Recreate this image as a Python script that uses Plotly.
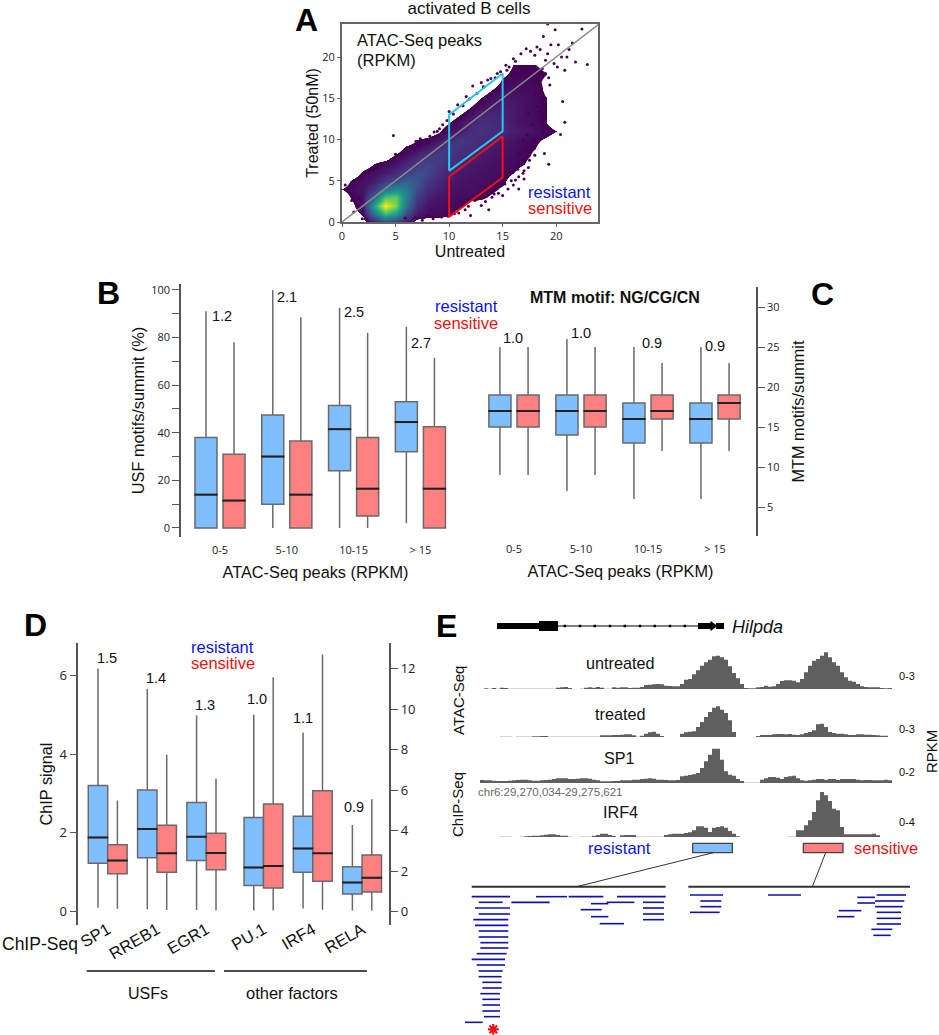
import plotly.graph_objects as go

W, H = 939, 1035

# ---------- panel A data ----------
density_rows = [
 [0,0,0,8,20,16,7,0],
 [0,0,4,36,68,54,22,8,5,5,4,0],
 [0,2,8,58,100,80,38,12,7,6,5,4,0],
 [0,4,6,30,72,76,42,18,9,7,6,5,5,4,2,0],
 [3,5,7,14,34,46,42,24,12,9,7,6,6,5,4,2,0],
 [0,4,6,8,15,24,30,27,17,11,8,7,6,6,5,4,0],
 [0,0,4,6,8,12,18,24,21,14,10,8,7,6,6,5,3,0],
 [0,0,0,3,5,7,11,17,21,17,13,10,8,7,6,6,5,3,0],
 [0,0,0,0,0,4,6,10,15,18,15,12,10,8,7,6,5,4,2,0],
 [0,0,0,0,0,0,4,5,8,13,18,14,13,10,8,7,6,4,3,0],
 [0,0,0,0,0,0,0,3,4,6,12,16,14,12,10,8,7,5,4,2,0],
 [0,0,0,0,0,0,0,0,0,2,6,8,12,15,13,11,9,8,6,5,3,0],
 [0,0,0,0,0,0,0,0,0,0,3,6,10,13,12,10,8,6,5,3,0],
 [0,0,0,0,0,0,0,0,0,0,0,3,6,10,11,10,8,6,5,3,0],
 [0,0,0,0,0,0,0,0,0,0,0,0,3,6,9,9,8,6,5,3,0],
 [0,0,0,0,0,0,0,0,0,0,0,0,0,3,6,8,7,6,5,3,0],
 [0,0,0,0,0,0,0,0,0,0,0,0,0,0,3,6,6,5,5,2,0],
 [0,0,0,0,0,0,0,0,0,0,0,0,0,0,0,4,5,5,4,2,0],
 [0,0,0,0,0,0,0,0,0,0,0,0,0,0,0,2,4,4,4,3,0],
 [0,0,0,0,0,0,0,0,0,0,0,0,0,0,0,0,3,3,3,2,0],
 [0],[0],[0],[0],[0],
]
density_axis = list(range(25))
outlier_x = [22.4,22.9,19.9,19.2,21.5,21.2,21.8,20.8,20.6,20.8,20.4,18.8,18.5,19.2,19.8,20.1,16.7,19.5,18.2,17.6,18.0,19.0,20.5,21.0,20.2,17.2,16.2,15.6,19.3,19.0,18.6,19.0,18.2,18.6,18.8,17.9,17.7,18.9,19.3,17.5,16.8,16.5,15.8,17.0,
 4.8,6.9,7.3,8.2,8.9,9.4,10.0,10.8,11.6,12.2,13.0,13.6,14.3,8.0,6.0,5.0,4.0,3.2,2.5,1.8,1.2,0.3,0.5,0.8,
 10.5,11.5,12.0,13.0,13.7,14.0,14.6,15.5,16.0,16.5,8.5,9.3,7.5,11.2,12.8,15.0,
 17.9,18.3,18.7,18.1,17.4,17.8,16.9,17.3,18.4,18.9,19.4,17.0,16.4,15.9,16.6,17.6,18.0,15.4,16.0,14.8,15.3,13.9,14.5,13.2,12.6,11.9,11.3,10.4,9.8,9.1,8.6,7.8,7.2,6.4,5.6,4.6,3.6,2.9,2.2,1.5,
 9.9,10.9,11.8,12.4,13.4,14.2,15.2,16.2,16.9,17.4,8.0,6.8,5.9,1.9,2.3,1.1,0.9,1.6]
outlier_y = [23.4,19.1,23.3,24.0,21.7,20.9,19.4,18.4,14.6,12.1,10.6,22.5,20.9,20.4,19.2,18.8,20.4,21.5,21.2,20.7,20.2,19.6,20.0,20.0,21.5,21.0,19.5,18.8,17.5,18.0,16.0,15.0,14.0,12.5,11.0,10.0,8.8,8.3,7.0,7.5,7.0,5.5,5.0,5.2,
 10.5,9.8,10.1,10.4,11.0,11.8,13.4,14.2,15.2,16.5,16.9,17.2,17.5,9.6,8.8,8.2,7.0,6.5,6.0,5.5,5.0,4.5,4.0,3.5,
 1.0,1.5,0.8,2.0,1.5,3.0,3.5,4.0,4.5,4.0,0.4,0.6,0.2,2.2,3.2,3.2,
 17.8,17.2,18.6,15.5,13.2,11.8,9.9,10.6,13.4,14.3,16.6,6.2,6.4,6.0,8.2,9.0,8.1,18.4,19.8,18.2,19.0,17.4,18.0,16.4,15.6,14.9,14.1,13.1,12.3,11.3,10.9,10.0,9.3,8.8,8.5,7.6,6.9,6.3,5.8,5.2,
 0.7,1.1,1.9,2.6,2.5,3.4,4.6,5.1,5.9,6.6,0.8,0.6,0.5,0.4,0.3,1.2,2.6,2.9]
diag_xy = [0, 24]
res_gate_x = [10, 10, 15, 15, 10]
res_gate_y = [6.2, 13, 18, 11, 6.2]
sen_gate_x = [10, 10, 15, 15, 10]
sen_gate_y = [0.6, 5.5, 10.4, 5.4, 0.6]

# ---------- panel B data ----------
bc_groups = ["0-5", "5-10", "10-15", "> 15"]
usf_res_q1 = [0, 10, 24, 32]
usf_res_med = [14, 30, 41.5, 44.5]
usf_res_q3 = [38, 47.5, 51.5, 53]
usf_res_lo = [0, 0, 0, 2]
usf_res_hi = [91, 100, 92.5, 84.5]
usf_sen_q1 = [0, 0, 5, 0]
usf_sen_med = [11.5, 14, 16.5, 16.5]
usf_sen_q3 = [31, 36.5, 38, 42.5]
usf_sen_lo = [0, 0, 0, 0]
usf_sen_hi = [78, 88.5, 82, 71.5]
usf_ratio = ["1.2", "2.1", "2.5", "2.7"]

# ---------- panel C data ----------
mtm_res_q1 = [15, 14, 13, 13]
mtm_res_med = [17, 17, 16, 16]
mtm_res_q3 = [19, 19, 18, 18]
mtm_res_lo = [9, 7, 6, 6]
mtm_res_hi = [25, 26, 25, 25]
mtm_sen_q1 = [15, 15, 16, 16]
mtm_sen_med = [17, 17, 17, 18]
mtm_sen_q3 = [19, 19, 19, 19]
mtm_sen_lo = [9, 9, 12, 12]
mtm_sen_hi = [25, 25, 23, 23]
mtm_ratio = ["1.0", "1.0", "0.9", "0.9"]

# ---------- panel D data ----------
factors = ["SP1", "RREB1", "EGR1", "PU.1", "IRF4", "RELA"]
chip_res_q1 = [1.23, 1.37, 1.30, 0.66, 1.00, 0.45]
chip_res_med = [1.88, 2.10, 1.90, 1.12, 1.60, 0.74]
chip_res_q3 = [3.20, 3.09, 2.77, 2.39, 2.42, 1.14]
chip_res_lo = [0.10, 0.06, 0.04, 0.03, 0.08, 0.03]
chip_res_hi = [6.17, 5.66, 4.98, 5.00, 4.55, 2.20]
chip_sen_q1 = [0.96, 1.00, 1.06, 0.60, 0.77, 0.50]
chip_sen_med = [1.30, 1.48, 1.49, 1.16, 1.48, 0.86]
chip_sen_q3 = [1.70, 2.19, 1.99, 2.73, 3.07, 1.44]
chip_sen_lo = [0.07, 0.04, 0.03, 0.03, 0.05, 0.03]
chip_sen_hi = [2.82, 3.98, 3.38, 5.95, 6.53, 2.85]
chip_ratio = ["1.5", "1.4", "1.3", "1.0", "1.1", "0.9"]

# ---------- panel E data ----------
track_untreated = [0,2,1,3,1,4,3,1,1,1, 1,1,1,1,1,1,1,1,1,4, 5,6,3,0,0,1,4,5,4,6, 4,1,1,5,4,5,5,3,4,4,
 6,12,13,14,15,14,10,9,8,8, 15,28,30,44,56,70,80,88,98,100, 95,88,68,48,32,15,3,2,2,5,
 6,10,7,8,15,24,26,26,25,20, 30,50,70,85,90,100,110,95,80,70, 50,35,25,22,15,8,6,5,5,5, 3,2,3,1]
track_treated = [0,0,0,0,0,1,1,1,0,1, 1,1,1,2,2,3,3,1,1,1, 1,1,1,1,1,1,1,1,1,1, 5,5,5,6,6,7,8,8,5,1,
 4,10,14,16,10,3,0,0,0,0, 10,14,16,17,30,45,60,75,88,92, 82,72,50,15,0,0,0,0,0,3,
 6,6,6,8,9,9,8,9,7,6, 8,12,15,20,38,40,30,15,12,10, 10,8,6,6,8,8,7,7,6,5, 4,4,0,0]
track_sp1 = [9,8,8,7,6,6,6,7,8,9, 10,10,8,7,7,8,9,10,12,14, 14,14,12,12,13,14,14,13,10,8, 5,5,5,6,6,8,8,8,10,10,
 12,13,14,13,10,10,9,8,8,9, 20,22,24,26,30,45,65,85,103,103, 70,35,25,22,12,6,1,1,1,1,
 10,14,18,18,16,12,18,20,22,14, 8,7,8,10,12,12,10,12,12,9, 12,12,12,12,10,8,9,9,8,8, 8,10,8,6]
track_irf4 = [0,0,0,0,0,1,1,1,0,0, 1,2,3,4,4,5,7,8,8,6, 4,4,1,0,0,1,1,1,4,6, 10,10,6,3,0,5,6,6,6,1,
 1,1,1,1,1,1,6,8,10,10, 10,12,14,20,32,32,28,15,28,30, 32,28,18,10,2,0,0,0,0,0,
 0,0,0,0,0,0,0,1,1,20, 20,35,50,75,110,135,125,108,85,80, 30,8,8,8,8,8,8,8,10,5, 0,0,0,0]
gene_utr_x = [4.25, 14.75]
gene_cds_x = [14.75, 19.5]
gene_intron_x = [19.5, 54.5]
gene_exon2_x = [54.5, 58]
gene_end_x = [59, 61]
gene_nicks = [21.2, 25, 28.7, 32.5, 36.2, 40, 43.7, 47.5, 51.2]

read_starts = [95,116,105,116,100,105,116,116,121,121,110,95,110,116,116,127,127,121,127,127,127,132,75,
 288,214,386,453,500,531,422,453,479,609,609,609,609,
 750,781,781,750,984,1252,1252,1310,1305,1305,1310,1310,1310,1294,1300,1196,1191]
read_ends = [210,188,210,210,205,205,205,205,205,205,200,195,195,188,185,185,185,180,180,180,180,180,128,
 381,329,490,505,583,677,485,505,552,672,672,672,672,
 849,844,844,839,1083,1305,1305,1398,1393,1388,1383,1383,1383,1357,1352,1264,1243]
read_rows = [200,217,234,252,269,286,303,321,338,354,371,388,405,423,440,457,474,491,508,525,543,560,577,
 200,217,200,221,217,200,239,260,281,217,234,252,269,
 195,213,230,247,195,202,219,195,213,230,247,265,282,298,316,242,260]

FONT = "Liberation Sans"
TICKF = "Open Sans"
BLUE, RED = "#7fbfff", "#ff8080"
LBLUE, LRED = "#0a14ee", "#ee1111"
AXC = "#555555"


def px(v):
    return v / W


def py(v):
    return 1 - v / H


fig = go.Figure()
ann = []


def text(x, y, s, size=15, color="#111", bold=False, italic=False, angle=0, anchor="center", family=FONT):
    if bold:
        s = f"<b>{s}</b>"
    if italic:
        s = f"<i>{s}</i>"
    ann.append(dict(x=px(x), y=py(y), xref="paper", yref="paper", text=s, showarrow=False, xanchor=anchor,
                    yanchor="middle", textangle=angle, font=dict(size=size, color=color, family=family)))


def boxes(xs, width, q1, med, q3, lo, hi, fill, xa, ya):
    fig.add_trace(go.Box(x=xs, q1=q1, median=med, q3=q3, lowerfence=lo, upperfence=hi, width=width, whiskerwidth=0,
                         boxpoints=False, fillcolor=fill, line=dict(color="#6a6a6a", width=1.5),
                         xaxis=xa, yaxis=ya, showlegend=False, hoverinfo="skip"))
    mx, my = [], []
    for x, m in zip(xs, med):
        mx += [x - width * 0.53, x + width * 0.53, None]
        my += [m, m, None]
    fig.add_trace(go.Scatter(x=mx, y=my, mode="lines", line=dict(color="#222", width=2), xaxis=xa, yaxis=ya,
                             showlegend=False, hoverinfo="skip"))


# ----- A -----
matrix = [r + [0] * (25 - len(r)) for r in density_rows]
vir = [(0.11, "#482878"), (0.22, "#3e4989"), (0.33, "#31688e"), (0.44, "#26828e"), (0.56, "#1f9e89"),
       (0.67, "#35b779"), (0.78, "#6ece58"), (0.89, "#b5de2b"), (1.0, "#fde725")]
cs = [[0, "#ffffff"], [0.028, "#ffffff"], [0.03, "#440154"]] + [[max(p, 0.03), c] for p, c in vir]
fig.add_trace(go.Heatmap(x=density_axis, y=density_axis, z=matrix, zmin=0, zmax=100, zsmooth="best", colorscale=cs,
                         showscale=False, hoverinfo="skip", xaxis="x", yaxis="y"))
fig.add_trace(go.Scatter(x=outlier_x, y=outlier_y, mode="markers", marker=dict(size=3, color="#440154"),
                         showlegend=False, hoverinfo="skip", xaxis="x", yaxis="y"))
fig.add_trace(go.Scatter(x=diag_xy, y=diag_xy, mode="lines", line=dict(color="#8a8a8a", width=1.5), showlegend=False,
                         hoverinfo="skip", xaxis="x", yaxis="y"))
fig.add_trace(go.Scatter(x=res_gate_x, y=res_gate_y, mode="lines", line=dict(color="#29c5ea", width=2),
                         showlegend=False, hoverinfo="skip", xaxis="x", yaxis="y"))
fig.add_trace(go.Scatter(x=sen_gate_x, y=sen_gate_y, mode="lines", line=dict(color="#f01010", width=2),
                         showlegend=False, hoverinfo="skip", xaxis="x", yaxis="y"))

# ----- B / C -----
bc_pos = [0, 1, 2, 3]
off = 0.21
wid = 0.33
boxes([p - off for p in bc_pos], wid, usf_res_q1, usf_res_med, usf_res_q3, usf_res_lo, usf_res_hi, BLUE, "x2", "y2")
boxes([p + off for p in bc_pos], wid, usf_sen_q1, usf_sen_med, usf_sen_q3, usf_sen_lo, usf_sen_hi, RED, "x2", "y2")
boxes([p - off for p in bc_pos], wid, mtm_res_q1, mtm_res_med, mtm_res_q3, mtm_res_lo, mtm_res_hi, BLUE, "x3", "y3")
boxes([p + off for p in bc_pos], wid, mtm_sen_q1, mtm_sen_med, mtm_sen_q3, mtm_sen_lo, mtm_sen_hi, RED, "x3", "y3")

# ----- D -----
d_pos = [0, 1, 2, 3.16, 4.16, 5.16]
d_off = 0.197
d_w = 0.394
boxes([p - d_off for p in d_pos], d_w, chip_res_q1, chip_res_med, chip_res_q3, chip_res_lo, chip_res_hi, BLUE, "x4", "y4")
boxes([p + d_off for p in d_pos], d_w, chip_sen_q1, chip_sen_med, chip_sen_q3, chip_sen_lo, chip_sen_hi, RED, "x4", "y4")
fig.add_trace(go.Scatter(x=[0], y=[0], mode="markers", marker=dict(opacity=0), xaxis="x4", yaxis="y5",
                         showlegend=False, hoverinfo="skip"))

# ----- E tracks -----
for tr, ya in zip([track_untreated, track_treated, track_sp1, track_irf4], ["y6", "y7", "y8", "y9"]):
    fig.add_trace(go.Scatter(x=list(range(len(tr))), y=tr, mode="lines", fill="tozeroy", fillcolor="#5f5f5f",
                             line=dict(shape="hv", width=0, color="#5f5f5f"), xaxis="x5", yaxis=ya,
                             showlegend=False, hoverinfo="skip"))
for xs, w in [(gene_intron_x, 1), (gene_utr_x, 6), (gene_cds_x, 10), (gene_exon2_x, 6), (gene_end_x, 6)]:
    fig.add_trace(go.Scatter(x=xs, y=[0, 0], mode="lines", line=dict(color="#000", width=w), xaxis="x5", yaxis="y10",
                             showlegend=False, hoverinfo="skip"))
fig.add_trace(go.Scatter(x=gene_nicks, y=[0] * len(gene_nicks), mode="markers",
                         marker=dict(size=2.5, color="#000", symbol="square"), xaxis="x5", yaxis="y10",
                         showlegend=False, hoverinfo="skip"))
fig.add_trace(go.Scatter(x=[58.2], y=[0], mode="markers", marker=dict(size=9, color="#000", symbol="triangle-right"),
                         xaxis="x5", yaxis="y10", showlegend=False, hoverinfo="skip"))

# ----- E lower part -----
for xs, ys, fill in [([758, 877, 877, 758, 758], [40, 40, 68, 68, 40], BLUE),
                     ([1090, 1209, 1209, 1090, 1090], [40, 40, 68, 68, 40], RED)]:
    fig.add_trace(go.Scatter(x=xs, y=ys, mode="lines", fill="toself", fillcolor=fill,
                             line=dict(color="#444", width=1.3), xaxis="x6", yaxis="y11",
                             showlegend=False, hoverinfo="skip"))
for xs, ys, w in [([95, 677], [170, 170], 2), ([745, 1410], [170, 170], 2),
                  ([820, 410], [68, 170], 1), ([1157, 1117], [68, 170], 1)]:
    fig.add_trace(go.Scatter(x=xs, y=ys, mode="lines", line=dict(color="#333", width=w), xaxis="x6", yaxis="y11",
                             showlegend=False, hoverinfo="skip"))
rx, ry = [], []
for a, b, r in zip(read_starts, read_ends, read_rows):
    rx += [a, b, None]
    ry += [r, r, None]
fig.add_trace(go.Scatter(x=rx, y=ry, mode="lines", line=dict(color="#1010b0", width=1.6), xaxis="x6", yaxis="y11",
                         showlegend=False, hoverinfo="skip"))
fig.add_trace(go.Scatter(x=[160], y=[598], mode="markers",
                         marker=dict(symbol="asterisk", size=9, line=dict(color="#ee1111", width=2.2)),
                         xaxis="x6", yaxis="y11", showlegend=False, hoverinfo="skip"))

# ----- labels -----
text(306, 20, "A", 32, "#000", True)
text(108, 293, "B", 32, "#000", True)
text(822, 294, "C", 32, "#000", True)
text(35, 625, "D", 32, "#000", True)
text(446, 626, "E", 32, "#000", True)
text(355, 40, "ATAC-Seq peaks", 16.5, anchor="left")
text(355, 60, "(RPKM)", 16.5, anchor="left")
text(559, 192, "resistant", 16.5, LBLUE)
text(560, 208, "sensitive", 16.5, LRED)
text(466, 306, "resistant", 16.5, LBLUE)
text(466, 323, "sensitive", 16.5, LRED)
text(615, 297, "MTM motif: NG/CG/CN", 16, bold=True)
for s, x, y in zip(usf_ratio, [222, 287, 354, 421], [316, 297, 312, 343]):
    text(x, y, s, 14.5)
for s, x, y in zip(mtm_ratio, [513, 581, 652, 715], [338, 333, 343, 346]):
    text(x, y, s, 14.5)
for s, x, y in zip(chip_ratio, [107, 156, 205, 257, 303, 354], [658, 678, 705, 699, 718, 807]):
    text(x, y, s, 14.5)
text(222, 647, "resistant", 16.5, LBLUE)
text(223, 663, "sensitive", 16.5, LRED)
text(40, 944, "ChIP-Seq", 17.5)
text(148, 993, "USFs", 16)
text(292, 993, "other factors", 16.5)
text(757, 627, "Hilpda", 18, italic=True)
text(620, 663, "untreated", 16.2)
text(620, 714, "treated", 16.2)
text(619, 758, "SP1", 16.2)
text(620, 812, "IRF4", 16.2)
text(550, 792, "chr6:29,270,034-29,275,621", 11.5, "#666")
for s, y in zip(["0-3", "0-3", "0-2", "0-4"], [676, 729, 772, 822]):
    text(907, y, s, 11)
text(931, 752, "RPKM", 15, angle=-90)
text(458, 701, "ATAC-Seq", 15, angle=-90)
text(457, 805, "ChIP-Seq", 15, angle=-90)
text(653, 848, "resistant", 16.5, LBLUE, anchor="right")
text(852, 848, "sensitive", 16.5, LRED, anchor="left")


def dom_x(a, b):
    return [px(a), px(b)]


def dom_y(top, bottom):
    return [py(bottom), py(top)]


tickfont = dict(family=TICKF, size=11, color="#222")
hidden = dict(visible=False, showgrid=False, zeroline=False)


def title(s, standoff, size=16.3):
    return dict(text=s, font=dict(family=FONT, size=size, color="#111"), standoff=standoff)


def val_axis(**k):
    base = dict(showline=True, linecolor=AXC, linewidth=1.5, ticks="outside", ticklen=7, tickcolor=AXC, tickwidth=1.2,
                showgrid=False, zeroline=False, tickfont=tickfont)
    base.update(k)
    return base


def cat_axis(**k):
    base = dict(showline=False, ticks="", showgrid=False, zeroline=False, tickmode="array",
                tickfont=dict(family=TICKF, size=11, color="#222"))
    base.update(k)
    return base


bx0, bdx = 220, 66.8
cx0, cdx = 514, 67
dx0, ddx = 107.7, 49.3

fig.update_layout(
    width=W, height=H, margin=dict(l=0, r=0, t=0, b=0, autoexpand=False), plot_bgcolor="rgba(0,0,0,0)",
    paper_bgcolor="white", showlegend=False, annotations=ann, font=dict(family=FONT),
    title=dict(text="activated B cells", x=px(469), xanchor="center", y=py(8), yanchor="middle",
               font=dict(family=FONT, size=17, color="#111")),
    xaxis=dict(domain=dom_x(342, 598), range=[0, 23.9], anchor="y", mirror=True, showline=True, linecolor="#666",
               linewidth=2, ticks="outside", ticklen=3, tickcolor="#666", tickvals=[0, 5, 10, 15, 20], showgrid=False,
               zeroline=False, tickfont=dict(family=TICKF, size=11, color="#222"), title=title("Untreated", 0, 16)),
    yaxis=dict(domain=dom_y(24, 222), range=[0, 24], anchor="x", mirror=True, showline=True, linecolor="#666",
               linewidth=2, ticks="outside", ticklen=3, tickcolor="#666", tickvals=[0, 5, 10, 15, 20], showgrid=False,
               zeroline=False, tickfont=dict(family=TICKF, size=11, color="#222"),
               title=title("Treated (50nM)", 0, 16)),
    xaxis2=cat_axis(domain=dom_x(181, 450), range=[(181 - bx0) / bdx, (450 - bx0) / bdx], anchor="y2",
                    tickvals=bc_pos, ticktext=bc_groups, ticklabelstandoff=5,
                    title=title("ATAC-Seq peaks (RPKM)", 10)),
    yaxis2=val_axis(domain=dom_y(284, 537), range=[-3.8, 102.5], anchor="x2", tickvals=list(range(0, 101, 10)),
                    ticktext=[str(v) if v % 20 == 0 else "" for v in range(0, 101, 10)],
                    title=title("USF motifs/summit (%)", 2)),
    xaxis3=cat_axis(domain=dom_x(485, 756), range=[(485 - cx0) / cdx, (756 - cx0) / cdx], anchor="y3",
                    tickvals=bc_pos, ticktext=bc_groups, ticklabelstandoff=5,
                    title=title("ATAC-Seq peaks (RPKM)", 10)),
    yaxis3=val_axis(domain=dom_y(287, 536), range=[1.375, 32.5], anchor="x3", side="right",
                    tickvals=[5, 10, 15, 20, 25, 30], title=title("MTM motifs/summit", 14)),
    xaxis4=cat_axis(domain=dom_x(78.3, 389.3), range=[(78.3 - dx0) / ddx, (389.3 - dx0) / ddx], anchor="y4",
                    tickvals=d_pos, ticktext=factors, tickangle=-30, ticklabelstandoff=-9,
                    tickfont=dict(family=FONT, size=16.5, color="#111")),
    yaxis4=val_axis(domain=dom_y(643, 925), range=[-0.34, 6.82], anchor="x4", tickvals=[0, 2, 4, 6],
                    tickfont=dict(family=TICKF, size=13, color="#222"), title=title("ChIP signal", 3)),
    yaxis5=val_axis(domain=dom_y(643, 925), range=[-0.66, 13.27], anchor="x4", side="right", overlaying="y4",
                    tickvals=[0, 2, 4, 6, 8, 10, 12], tickfont=dict(family=TICKF, size=13, color="#222")),
    xaxis5=dict(domain=dom_x(480, 896), range=[0, 104], anchor="y6", **hidden),
    yaxis6=dict(domain=dom_y(649, 689), range=[0, 120], anchor="x5", **hidden),
    yaxis7=dict(domain=dom_y(697, 737), range=[0, 120], anchor="x5", **hidden),
    yaxis8=dict(domain=dom_y(743, 783), range=[0, 120], anchor="x5", **hidden),
    yaxis9=dict(domain=dom_y(787, 837), range=[0, 150], anchor="x5", **hidden),
    yaxis10=dict(domain=dom_y(616, 636), range=[-1, 1], anchor="x5", **hidden),
    xaxis6=dict(domain=dom_x(440, 939), range=[0, 1497], anchor="y11", **hidden),
    yaxis11=dict(domain=dom_y(830, 1035), range=[615, 0], anchor="x6", **hidden),
    shapes=[
        dict(type="line", xref="paper", yref="paper", x0=px(86.7), x1=px(215), y0=py(971), y1=py(971),
             line=dict(color="#111", width=1.5)),
        dict(type="line", xref="paper", yref="paper", x0=px(224), x1=px(367), y0=py(971), y1=py(971),
             line=dict(color="#111", width=1.5)),
    ],
)

fig.write_html("out.html", config=dict(displayModeBar=False),
               post_script="document.body.style.margin='0';document.body.style.overflow='hidden';")
